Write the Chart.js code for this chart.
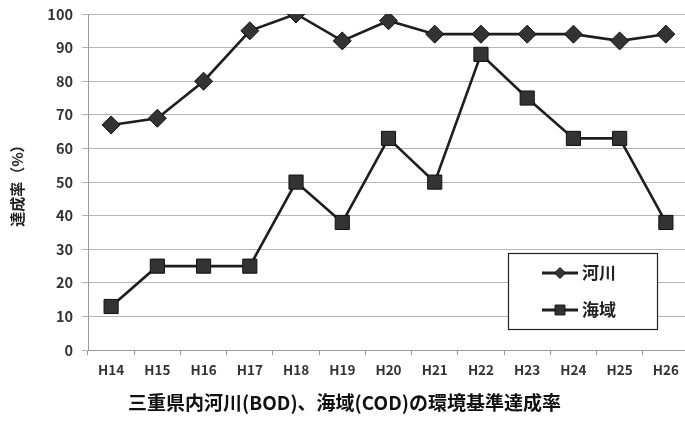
<!DOCTYPE html>
<html><head><meta charset="utf-8">
<script src="https://cdn.jsdelivr.net/npm/chart.js@4"></script>
<style>html,body{margin:0;padding:0;background:#fff;overflow:hidden;width:685px;height:423px}
#wrap{width:700px;height:423px;position:relative}</style></head>
<body><div id="wrap"><canvas id="c" width="700" height="423"></canvas></div>
<script>
const categories = ['H14','H15','H16','H17','H18','H19','H20','H21','H22','H23','H24','H25','H26'];
const riverValues = [67, 69, 80, 95, 100, 92, 98, 94, 94, 94, 94, 92, 94];
const seaValues = [13, 25, 25, 25, 50, 38, 63, 50, 88, 75, 63, 63, 38];
const seriesLabels = ['河川', '海域'];
const yTicks = [0,10,20,30,40,50,60,70,80,90,100];
const yTitle = '達成率（%）';
const chartTitle = '三重県内河川(BOD)、海域(COD)の環境基準達成率';

const FONT = '"Noto Sans CJK JP", "Noto Sans", sans-serif';

const legendBox = {
  id: 'legendBox',
  afterDraw(chart) {
    const ctx = chart.ctx;
    const a = chart.chartArea;
    const x0 = a.right - 181, y0 = a.top + 239, w = 149, h = 76;
    ctx.save();
    ctx.fillStyle = '#fff';
    ctx.fillRect(x0, y0, w, h);
    ctx.strokeStyle = '#222';
    ctx.lineWidth = 1.2;
    ctx.strokeRect(x0 + 0.5, y0 + 0.5, w, h);
    chart.data.datasets.forEach((ds, i) => {
      const cy = y0 + 20 + i * 37;
      const lx1 = x0 + 34, lx2 = x0 + 70;
      ctx.strokeStyle = ds.borderColor;
      ctx.lineWidth = 3;
      ctx.beginPath(); ctx.moveTo(lx1, cy); ctx.lineTo(lx2, cy); ctx.stroke();
      ctx.fillStyle = ds.pointBackgroundColor;
      ctx.strokeStyle = ds.pointBorderColor;
      ctx.lineWidth = 1;
      Chart.helpers.drawPoint(ctx, {pointStyle: ds.pointStyle, radius: ds.pointStyle === 'rect' ? 7 : 5.5, borderWidth: 1}, (lx1 + lx2) / 2, cy);
      ctx.fillStyle = '#222';
      ctx.font = 'bold 17px ' + FONT;
      ctx.textBaseline = 'middle';
      ctx.textAlign = 'left';
      ctx.fillText(ds.label, lx2 + 4, cy);
    });
    ctx.restore();
  }
};

new Chart(document.getElementById('c'), {
  type: 'line',
  data: {
    labels: categories,
    datasets: [
      {label: seriesLabels[0], data: riverValues, borderColor: '#1e1e1e', borderWidth: 2.6,
       pointStyle: 'rectRot', pointRadius: 9, pointBackgroundColor: '#333', pointBorderColor: '#111', pointBorderWidth: 1, tension: 0},
      {label: seriesLabels[1], data: seaValues, borderColor: '#1e1e1e', borderWidth: 2.6,
       pointStyle: 'rect', pointRadius: 10, pointBackgroundColor: '#333', pointBorderColor: '#111', pointBorderWidth: 1, tension: 0}
    ]
  },
  options: {
    responsive: false,
    animation: false,
    layout: {padding: {top: 14, right: 11, left: 0, bottom: 0}},
    plugins: {
      legend: {display: false},
      tooltip: {enabled: false},
      title: {display: true, text: chartTitle, position: 'bottom', color: '#111',
        font: {family: FONT, size: 19, weight: 'bold'}, padding: {top: 3, bottom: 9}}
    },
    scales: {
      x: {
        offset: true,
        grid: {offset: true, drawOnChartArea: false, drawTicks: true, tickLength: 5, color: '#999'},
        border: {color: '#999', width: 1},
        ticks: {color: '#333', font: {family: FONT, size: 13.5, weight: 'bold'}, padding: 7, maxRotation: 0, autoSkip: false},
        afterFit(s) { s.height = 38; }
      },
      y: {
        min: 0, max: 100,
        afterBuildTicks(s) { s.ticks = yTicks.map(v => ({value: v})); },
        grid: {color: '#b5b5b5', lineWidth: 1, tickLength: 6, drawTicks: true},
        border: {color: '#999', width: 1},
        ticks: {color: '#333', font: {family: FONT, size: 14.5, weight: 'bold'}, padding: 9},
        title: {display: true, text: yTitle, color: '#222', font: {family: FONT, size: 15, weight: 'bold'}, padding: {top: 8, bottom: 0}},
        afterFit(s) { s.width = 88; s.paddingTop = 0; s.paddingBottom = 0; }
      }
    }
  },
  plugins: [legendBox]
});
</script></body></html>
